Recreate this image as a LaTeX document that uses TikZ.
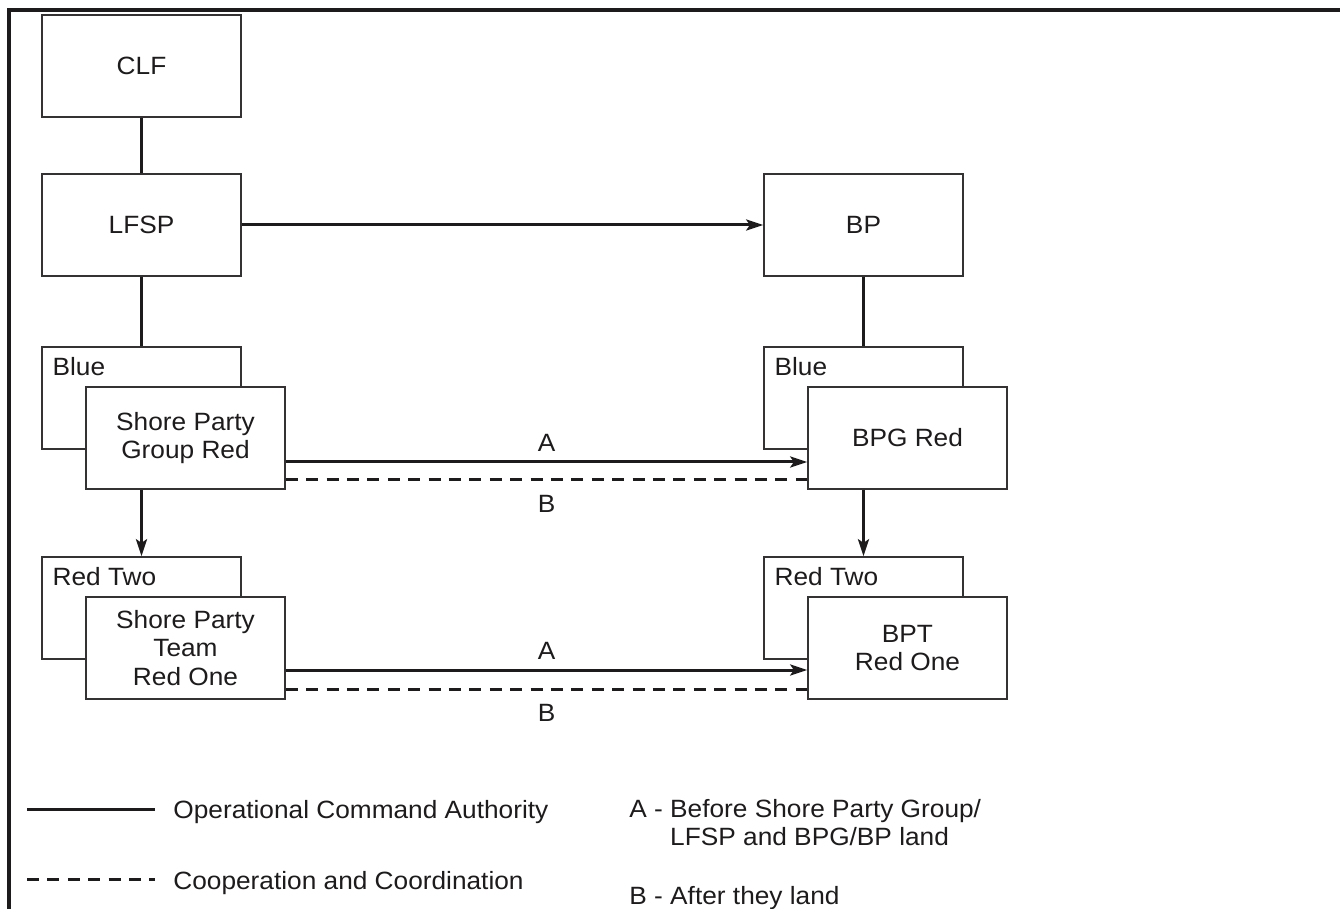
\documentclass[tikz,border=0pt]{standalone}
\usepackage{fontspec}
\setmainfont{Liberation Sans}[FakeStretch=1.05]
\usetikzlibrary{arrows.meta,calc}
\definecolor{ink}{HTML}{1E1B1C}
\begin{document}
\begin{tikzpicture}[x=0.5pt,y=-0.5pt,
  every node/.style={font=\fontsize{12.5}{14.15}\selectfont, text=ink},
  box/.style={draw=ink!90, line width=0.75pt, fill=white, minimum width=99.5pt,
              minimum height=51pt, align=center, inner sep=0pt},
  tag/.style={anchor=base west, inner sep=0pt},
  link/.style={draw=ink, line width=1.5pt},
  cmd/.style={link, -{Stealth[length=8.5pt,width=5.5pt,inset=1.8pt]}},
  coop/.style={link, dash pattern=on 6pt off 4.2pt},
  frame/.style={draw=ink, line width=1.6pt}]

\useasboundingbox (0,0) rectangle (1340,909);

% outer frame (top and left edges)
\coordinate (fbl) at (9,915);
\coordinate (ftl) at (9,10);
\coordinate (ftr) at (1345,10);
\draw[frame] (fbl) -- (ftl) -- (ftr);

% command chain, left column
\node[box] (clf)  at (141.5,66)  {CLF};
\node[box] (lfsp) at (141.5,225) {LFSP};
\node[box] (bp)   at (863.5,225) {BP};

% group level (Blue behind Red)
\node[box] (blueL) at (141.5,398) {};
\node[tag] (blueLt) at ($(blueL.north west)+(11,29)$) {Blue};
\node[box] (spg) at (185.5,438) {Shore Party\\Group Red};

\node[box] (blueR) at (863.5,398) {};
\node[tag] (blueRt) at ($(blueR.north west)+(11,29)$) {Blue};
\node[box] (bpg) at (907.5,438) {BPG Red};

% team level (Red Two behind Red One)
\node[box] (twoL) at (141.5,608) {};
\node[tag] (twoLt) at ($(twoL.north west)+(11,29)$) {Red Two};
\node[box] (spt) at (185.5,648) {Shore Party\\Team\\Red One};

\node[box] (twoR) at (863.5,608) {};
\node[tag] (twoRt) at ($(twoR.north west)+(11,29)$) {Red Two};
\node[box] (bpt) at (907.5,648) {BPT\\Red One};

% command lines
\draw[link] (clf) -- (lfsp);
\draw[link] (lfsp) -- (blueL);
\draw[link] (bp) -- (blueR);
\draw[cmd] (lfsp) -- (bp);
\draw[cmd] (spg.south -| twoL.north) -- (twoL.north);
\draw[cmd] (bpg.south -| twoR.north) -- (twoR.north);

% group-level links
\draw[cmd]  ($(spg.east)+(0,24)$) -- ($(bpg.west)+(0,24)$);
\draw[coop] ($(spg.east)+(0,42)$) -- ($(bpg.west)+(0,42)$);
\node (gA) at (546.5,443) {A};
\node (gB) at (546.5,504) {B};

% team-level links
\draw[cmd]  ($(spt.east)+(0,22)$) -- ($(bpt.west)+(0,22)$);
\draw[coop] ($(spt.east)+(0,41)$) -- ($(bpt.west)+(0,41)$);
\node (tA) at (546.5,651) {A};
\node (tB) at (546.5,713) {B};

% legend
\coordinate (l1a) at (27,809);
\coordinate (l1b) at (155,809);
\draw[link] (l1a) -- (l1b);
\node[tag] (l1t) at (173,818) {Operational Command Authority};

\coordinate (l2a) at (27,879);
\coordinate (l2b) at (155,879);
\draw[coop] (l2a) -- (l2b);
\node[tag] (l2t) at (173,889) {Cooperation and Coordination};

\node[tag] (keyA) at (629,817)
  {\begin{tabular}[t]{@{}l@{\ }l@{}}A -& Before Shore Party Group/\\ & LFSP and BPG/BP land\end{tabular}};
\node[tag] (keyB) at (629,904) {B - After they land};
\end{tikzpicture}
\end{document}
